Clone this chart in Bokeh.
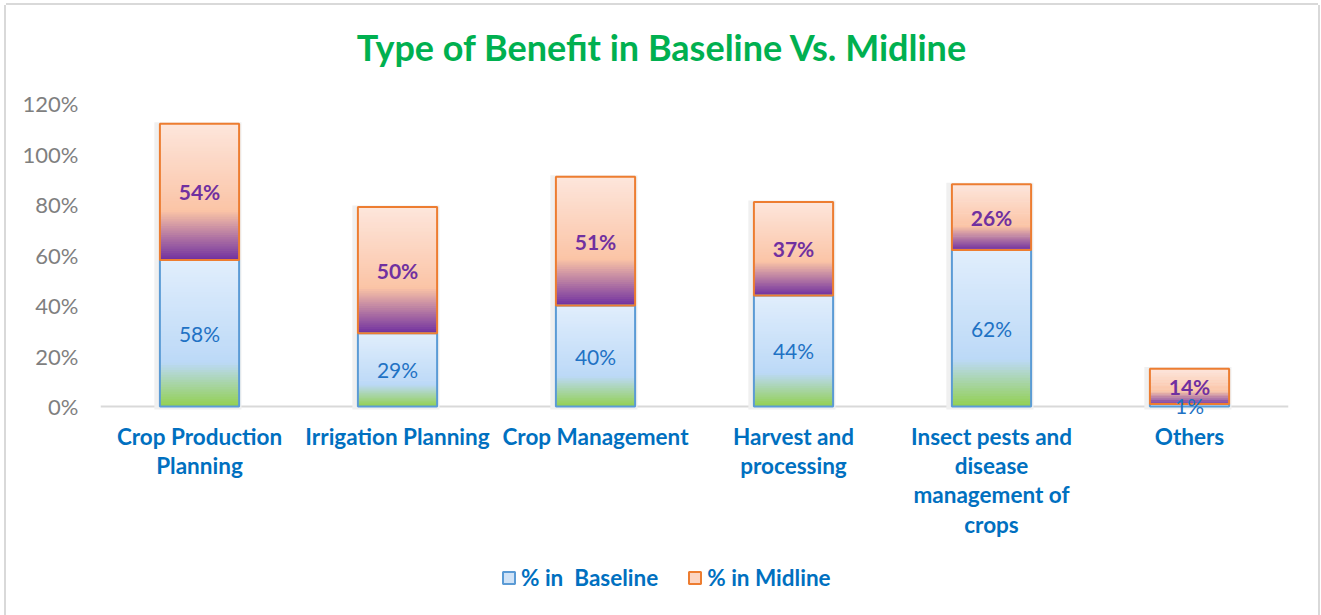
import numpy as np
from bokeh.plotting import figure
from bokeh.models import (ColumnDataSource, FactorRange, Range1d, FixedTicker,
                          NumeralTickFormatter, Legend, LegendItem, Label, Span)
from bokeh.transform import dodge
from bokeh.embed import file_html
from bokeh.resources import INLINE
from bokeh.core.properties import value

# ---------------- data ----------------
categories = ["Crop Production Planning", "Irrigation Planning", "Crop Management",
              "Harvest and processing", "Insect pests and disease management of crops", "Others"]
category_labels = ["Crop Production\nPlanning", "Irrigation Planning", "Crop Management",
                   "Harvest and\nprocessing", "Insect pests and\ndisease\nmanagement of\ncrops", "Others"]
baseline = [0.58, 0.29, 0.40, 0.44, 0.62, 0.01]
midline = [0.54, 0.50, 0.51, 0.37, 0.26, 0.14]
y_ticks = [0, 0.2, 0.4, 0.6, 0.8, 1.0, 1.2]
series_names = ["% in  Baseline", "% in Midline"]
title_text = "Type of Benefit in Baseline Vs. Midline"

# ---------------- style / layout ----------------
FONT = "Lato"
BAR_W = 0.4
N_SLICES = 60
PX_PER_UNIT = 252.5          # vertical pixels per 100 %
ZERO_PX = 401                # 0 % line, px from top of canvas
CANVAS_H = 610
TITLE_PX = 41                # title centre, px from top of canvas
Y_MIN = -(CANVAS_H - ZERO_PX) / PX_PER_UNIT
Y_MAX = ZERO_PX / PX_PER_UNIT
base_stops = [(0.0, (146, 208, 80)), (0.30, (188, 217, 247)), (1.0, (225, 238, 252))]
mid_stops = [(0.0, (112, 48, 160)), (0.36, (251, 196, 166)), (1.0, (253, 230, 220))]


def interp(stops, t):
    for (p0, c0), (p1, c1) in zip(stops[:-1], stops[1:]):
        if p0 <= t <= p1:
            f = (t - p0) / (p1 - p0)
            c = [round(a + (b - a) * f) for a, b in zip(c0, c1)]
            return "#%02x%02x%02x" % tuple(c)
    return "#%02x%02x%02x" % stops[-1][1]


def slices(cats, bottoms, tops, stops):
    xs, bs, ts, cs = [], [], [], []
    for c, b, t in zip(cats, bottoms, tops):
        h = t - b
        for k in range(N_SLICES):
            xs.append(c)
            bs.append(b + h * k / N_SLICES)
            ts.append(min(t, b + h * (k + 1.6) / N_SLICES))
            cs.append(interp(stops, (k + 0.5) / N_SLICES))
    return ColumnDataSource(dict(x=xs, bottom=bs, top=ts, color=cs))


totals = [b + m for b, m in zip(baseline, midline)]
zeros = [0.0] * len(categories)

p = figure(x_range=FactorRange(*categories), y_range=Range1d(Y_MIN, Y_MAX),
           width=1312, height=CANVAS_H, output_backend="svg", toolbar_location=None,
           x_axis_location=None, title=None,
           min_border_left=94, min_border_right=30, min_border_top=0, min_border_bottom=0,
           background_fill_color="white", border_fill_color="white")
p.outline_line_color = None
p.xgrid.grid_line_color = None
p.ygrid.grid_line_color = None
p.styles = {"margin-left": "6px", "margin-top": "5px",
            "box-shadow": "-2px 0 0 0 #d9d9d9, 2px 0 0 0 #d9d9d9, 0 -2px 0 0 #d9d9d9"}

# category baseline
p.add_layout(Span(location=0, dimension="width", line_color="#d9d9d9", line_width=2,
                  level="underlay"))

# shadows
shadow_src = ColumnDataSource(dict(x=categories, top=[t + 0.006 for t in totals],
                                   bottom=[-0.012] * len(categories)))
p.vbar(x=dodge("x", -0.008, range=p.x_range), top="top", bottom="bottom", width=BAR_W + 0.04,
       source=shadow_src, fill_color="#f0f0f0", line_color=None)

# gradient bars
p.vbar(x="x", bottom="bottom", top="top", width=BAR_W, fill_color="color", line_color=None,
       source=slices(categories, zeros, baseline, base_stops))
p.vbar(x="x", bottom="bottom", top="top", width=BAR_W, fill_color="color", line_color=None,
       source=slices(categories, baseline, totals, mid_stops))

# outlines
p.vbar(x=categories, bottom=zeros, top=baseline, width=BAR_W, fill_color=None,
       line_color="#5b9bd5", line_width=2)
p.vbar(x=categories, bottom=baseline, top=totals, width=BAR_W, fill_color=None,
       line_color="#ed7d31", line_width=2)

# data labels
lab_src = ColumnDataSource(dict(
    x=categories,
    ybase=[b / 2 for b in baseline],
    ymid=[b + m / 2 for b, m in zip(baseline, midline)],
    tbase=["%d%%" % round(v * 100) for v in baseline],
    tmid=["%d%%" % round(v * 100) for v in midline],
))
p.text(x="x", y="ybase", text="tbase", source=lab_src, text_align="center",
       text_baseline="middle", text_font=value(FONT), text_font_size=value("21px"),
       text_color="#1f72c4")
p.text(x="x", y="ymid", text="tmid", source=lab_src, text_align="center",
       text_baseline="middle", text_font=value(FONT), text_font_size=value("21px"),
       text_font_style="bold", text_color="#7030a0")

# category labels (multi-line)
cat_src = ColumnDataSource(dict(x=categories, text=category_labels,
                                y=[-16 / PX_PER_UNIT] * len(categories)))
p.text(x="x", y="y", text="text", source=cat_src, text_align="center", text_baseline="top",
       text_font=value(FONT), text_font_size=value("22.5px"), text_font_style="bold",
       text_color="#0070c0", text_line_height=1.09)

# y axis
p.yaxis.ticker = FixedTicker(ticks=y_ticks)
p.yaxis.formatter = NumeralTickFormatter(format="0%")
p.yaxis.axis_line_color = None
p.yaxis.major_tick_line_color = None
p.yaxis.minor_tick_line_color = None
p.yaxis.major_tick_out = 0
p.yaxis.major_label_standoff = 22
p.yaxis.major_label_text_font = FONT
p.yaxis.major_label_text_font_size = "22px"
p.yaxis.major_label_text_color = "#7f7f7f"

# title
p.add_layout(Label(x=(662 - 100) / 198, y=(ZERO_PX - TITLE_PX) / PX_PER_UNIT,
                   text=title_text, text_align="center", text_baseline="middle",
                   text_font=FONT, text_font_size="36px", text_font_style="bold",
                   text_color="#00b050"))

# legend (renderers with no drawable data; used only for their swatches)
nan = float("nan")
hidden = ColumnDataSource(dict(x=[categories[0]], top=[nan], bottom=[nan]))
rb = p.vbar(x="x", top="top", bottom="bottom", width=BAR_W, source=hidden,
            fill_color="#d0e3f7", line_color="#5b9bd5", line_width=2)
rm = p.vbar(x="x", top="top", bottom="bottom", width=BAR_W, source=hidden,
            fill_color="#fcd5c2", line_color="#ed7d31", line_width=2)
legend = Legend(items=[LegendItem(label=series_names[0], renderers=[rb]),
                       LegendItem(label=series_names[1], renderers=[rm])],
                orientation="horizontal", location=(401, 24), padding=0, margin=0, spacing=29,
                label_standoff=5, glyph_width=15, glyph_height=15, border_line_color=None,
                background_fill_alpha=0, label_text_font=FONT, label_text_font_style="bold",
                label_text_color="#0070c0", label_text_font_size="22.5px")
p.add_layout(legend)

open("out.html", "w").write(file_html(p, INLINE))
